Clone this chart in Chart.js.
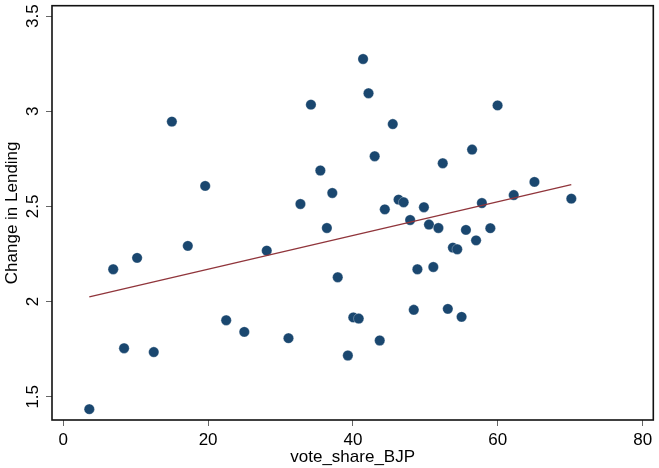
<!DOCTYPE html>
<html>
<head>
<meta charset="utf-8">
<script src="https://cdn.jsdelivr.net/npm/chart.js@4.4.1/dist/chart.umd.min.js"></script>
<style>
    html, body { margin: 0; padding: 0; background: #fff; }
    #wrap { width: 659px; height: 468px; }
</style>
</head>
<body>
<div id="wrap"><canvas id="scatterChart"></canvas></div>
<script>
// --- Data ---
const voteShare = [
    3.6, 6.9, 8.4, 10.2, 12.5, 15.0, 17.2, 19.6, 22.5, 25.0,
    28.1, 31.1, 32.75, 34.2, 35.5, 37.15, 36.4, 37.9, 39.3, 40.05,
    40.8, 41.4, 42.15, 43.0, 43.7, 44.4, 45.5, 46.3, 47.0, 47.9,
    48.4, 48.9, 49.8, 50.5, 51.1, 51.8, 52.4, 53.1, 53.8, 54.4,
    55.0, 55.6, 56.45, 57.0, 57.8, 58.97, 59.97, 62.2, 65.06, 70.15
];
const lendingChange = [
    1.435, 2.17, 1.755, 2.23, 1.735, 2.946, 2.293, 2.608, 1.902, 1.841,
    2.268, 1.808, 2.513, 3.035, 2.689, 2.571, 2.387, 2.128, 1.717, 1.917,
    1.911, 3.275, 3.095, 2.764, 1.796, 2.485, 2.933, 2.536, 2.522, 2.429,
    1.957, 2.17, 2.496, 2.405, 2.182, 2.387, 2.727, 1.962, 2.284, 2.275,
    1.92, 2.377, 2.799, 2.322, 2.518, 2.386, 3.031, 2.56, 2.629, 2.541
];
// fitted line end points
const fitX = [3.6, 70.15];
const fitY = [2.025, 2.615];

const xTicks = [0, 20, 40, 60, 80];
const yTicks = [1.5, 2, 2.5, 3, 3.5];

const NAVY = '#1a476f';
const MAROON = '#90353b';
const FONT = { family: '"Liberation Sans", Arial, Helvetica, sans-serif', size: 17 };

// draws the box round the plot region (Stata style)
const framePlugin = {
    id: 'frame',
    afterDraw(chart) {
        const { ctx, chartArea: a } = chart;
        ctx.save();
        ctx.strokeStyle = '#111';
        ctx.lineWidth = 1.6;
        ctx.strokeRect(a.left, a.top, a.right - a.left, a.bottom - a.top);
        ctx.restore();
    }
};

// keep the axes from pushing the plot area around
function noPadding(scale) {
    scale.paddingTop = 0;
    scale.paddingBottom = 0;
    scale.paddingLeft = 0;
    scale.paddingRight = 0;
}

const scatterPoints = voteShare.map((v, i) => ({ x: v, y: lendingChange[i] }));
const fitPoints = fitX.map((v, i) => ({ x: v, y: fitY[i] }));

new Chart(document.getElementById('scatterChart'), {
    type: 'scatter',
    data: {
        datasets: [
            {
                label: 'Change in Lending',
                data: scatterPoints,
                backgroundColor: NAVY,
                borderColor: 'rgba(255,255,255,0.6)',
                borderWidth: 0.5,
                pointRadius: 5.2,
                order: 2
            },
            {
                label: 'Fitted values',
                type: 'line',
                data: fitPoints,
                borderColor: MAROON,
                borderWidth: 1.4,
                pointRadius: 0,
                fill: false,
                order: 1
            }
        ]
    },
    options: {
        responsive: true,
        maintainAspectRatio: false,
        animation: false,
        layout: { padding: { top: 5, right: 3, left: 0, bottom: 0 } },
        plugins: {
            legend: { display: false },
            tooltip: { enabled: false }
        },
        scales: {
            x: {
                type: 'linear',
                min: -1.55,
                max: 81.47,
                afterBuildTicks: scale => { scale.ticks = xTicks.map(v => ({ value: v })); },
                afterFit: scale => { scale.height = 48; noPadding(scale); },
                grid: { drawOnChartArea: false, color: '#666', tickLength: 6 },
                border: { display: false },
                ticks: {
                    color: '#000', font: FONT, padding: 4, maxRotation: 0,
                    callback: v => String(v)
                },
                title: { display: true, text: 'vote_share_BJP', color: '#000', font: FONT, padding: 0 }
            },
            y: {
                type: 'linear',
                min: 1.378,
                max: 3.555,
                afterBuildTicks: scale => { scale.ticks = yTicks.map(v => ({ value: v })); },
                afterFit: scale => { scale.width = 52; noPadding(scale); },
                grid: { drawOnChartArea: false, color: '#666', tickLength: 6 },
                border: { display: false },
                ticks: {
                    color: '#000', font: FONT, padding: 1,
                    minRotation: 90, maxRotation: 90, crossAlign: 'center',
                    callback: v => String(v)
                },
                title: { display: true, text: 'Change in Lending', color: '#000', font: FONT, padding: { top: 2, bottom: 0 } }
            }
        }
    },
    plugins: [framePlugin]
});
</script>
</body>
</html>
